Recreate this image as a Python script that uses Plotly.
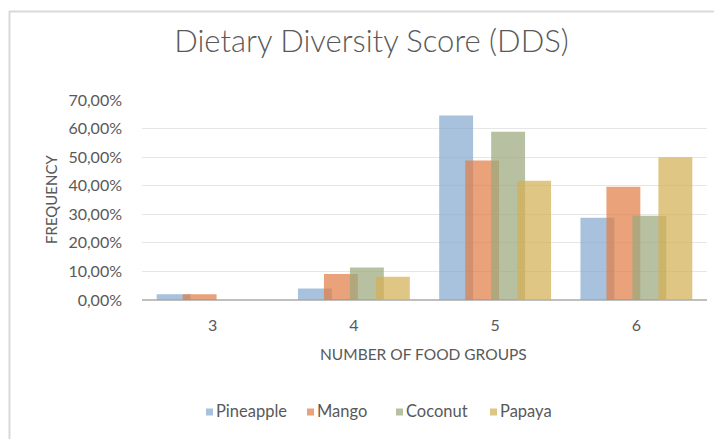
import plotly.graph_objects as go

categories = [3, 4, 5, 6]
series_names = ["Pineapple", "Mango", "Coconut", "Papaya"]
pineapple = [0.020, 0.040, 0.646, 0.288]
mango = [0.020, 0.091, 0.488, 0.396]
coconut = [0.0, 0.114, 0.589, 0.295]
papaya = [0.0, 0.081, 0.417, 0.500]
y_ticks = [0, 0.1, 0.2, 0.3, 0.4, 0.5, 0.6, 0.7]

values = [pineapple, mango, coconut, papaya]
colors = ["rgba(134,171,208,0.72)", "rgba(224,126,69,0.72)",
          "rgba(155,169,126,0.72)", "rgba(212,176,84,0.72)"]

# page has an 8px body margin: figure sized to fit the 722x439 window
OFF = 8
W, H = 722 - OFF, 439 - OFF
# plot box in page pixels
PL, PR, PT, PB = 142, 707, 100, 300
L, R, T, B = PL - OFF, W - (PR - OFF), PT - OFF, H - (PB - OFF)

bar_w = 0.24
step = 0.184

fig = go.Figure()
for i, (name, vals, col) in enumerate(zip(series_names, values, colors)):
    fig.add_trace(go.Bar(
        x=categories, y=vals, name=name,
        marker=dict(color=col, line=dict(width=0)),
        width=bar_w,
        offset=-bar_w / 2 + (i - 1.5) * step,
        showlegend=False,
    ))

font = "Lato, 'Open Sans', sans-serif"
txt = "#595959"


def px_x(p):
    return (p - PL) / (PR - PL)


def px_y(p):
    return (PB - p) / (PB - PT)


annotations = [
    dict(text="FREQUENCY", x=px_x(51), y=px_y(200), xref="paper", yref="paper",
         textangle=-90, showarrow=False, font=dict(size=15, color=txt),
         xanchor="center", yanchor="middle"),
    dict(text="NUMBER OF FOOD GROUPS", x=px_x(423), y=px_y(354), xref="paper", yref="paper",
         showarrow=False, font=dict(size=15.5, color=txt),
         xanchor="center", yanchor="middle"),
]
shapes = [
    dict(type="line", xref="paper", yref="paper", x0=px_x(9), x1=px_x(740),
         y0=px_y(11.5), y1=px_y(11.5), line=dict(color="#d9d9d9", width=2)),
    dict(type="line", xref="paper", yref="paper", x0=px_x(9.5), x1=px_x(9.5),
         y0=px_y(11), y1=px_y(460), line=dict(color="#d9d9d9", width=2)),
]

# manual legend (square swatch + label)
legend_left = [206, 307, 396, 490]
legend_y = 412
for name, col, lx in zip(series_names, colors, legend_left):
    shapes.append(dict(type="rect", xref="paper", yref="paper",
                       x0=px_x(lx), x1=px_x(lx + 7), y0=px_y(legend_y - 3.5), y1=px_y(legend_y + 3.5),
                       fillcolor=col, line=dict(width=0)))
    annotations.append(dict(text=name, x=px_x(lx + 8), y=px_y(legend_y - 1), xref="paper", yref="paper",
                            showarrow=False, xanchor="left", yanchor="middle",
                            font=dict(size=16.5, color=txt)))

fig.update_layout(
    width=W, height=H,
    margin=dict(l=L, r=R, t=T, b=B, autoexpand=False),
    barmode="overlay",
    paper_bgcolor="white", plot_bgcolor="white",
    separators=",.",
    showlegend=False,
    font=dict(family=font, color=txt),
    title=dict(text="Dietary Diversity Score (DDS)", x=363.5 / W, xanchor="center",
               y=1 - 32.7 / H, yanchor="middle", xref="container", yref="container",
               font=dict(size=31, color=txt, family=font, weight=300)),
    xaxis=dict(range=[2.5, 6.5], tickvals=categories, ticktext=[str(c) for c in categories],
               showgrid=False, zeroline=False, showline=False, automargin=False,
               ticks="", tickfont=dict(size=16, color=txt), ticklabelstandoff=14),
    yaxis=dict(range=[0, 0.7], tickvals=y_ticks, tickformat=".2%", automargin=False,
               showgrid=True, gridcolor="#e6e6e6", gridwidth=1,
               zeroline=True, zerolinecolor="#bfbfbf", zerolinewidth=2,
               showline=False, ticks="", tickfont=dict(size=16, color=txt),
               ticklabelstandoff=19),
    annotations=annotations,
    shapes=shapes,
)

fig.write_html("out.html")
